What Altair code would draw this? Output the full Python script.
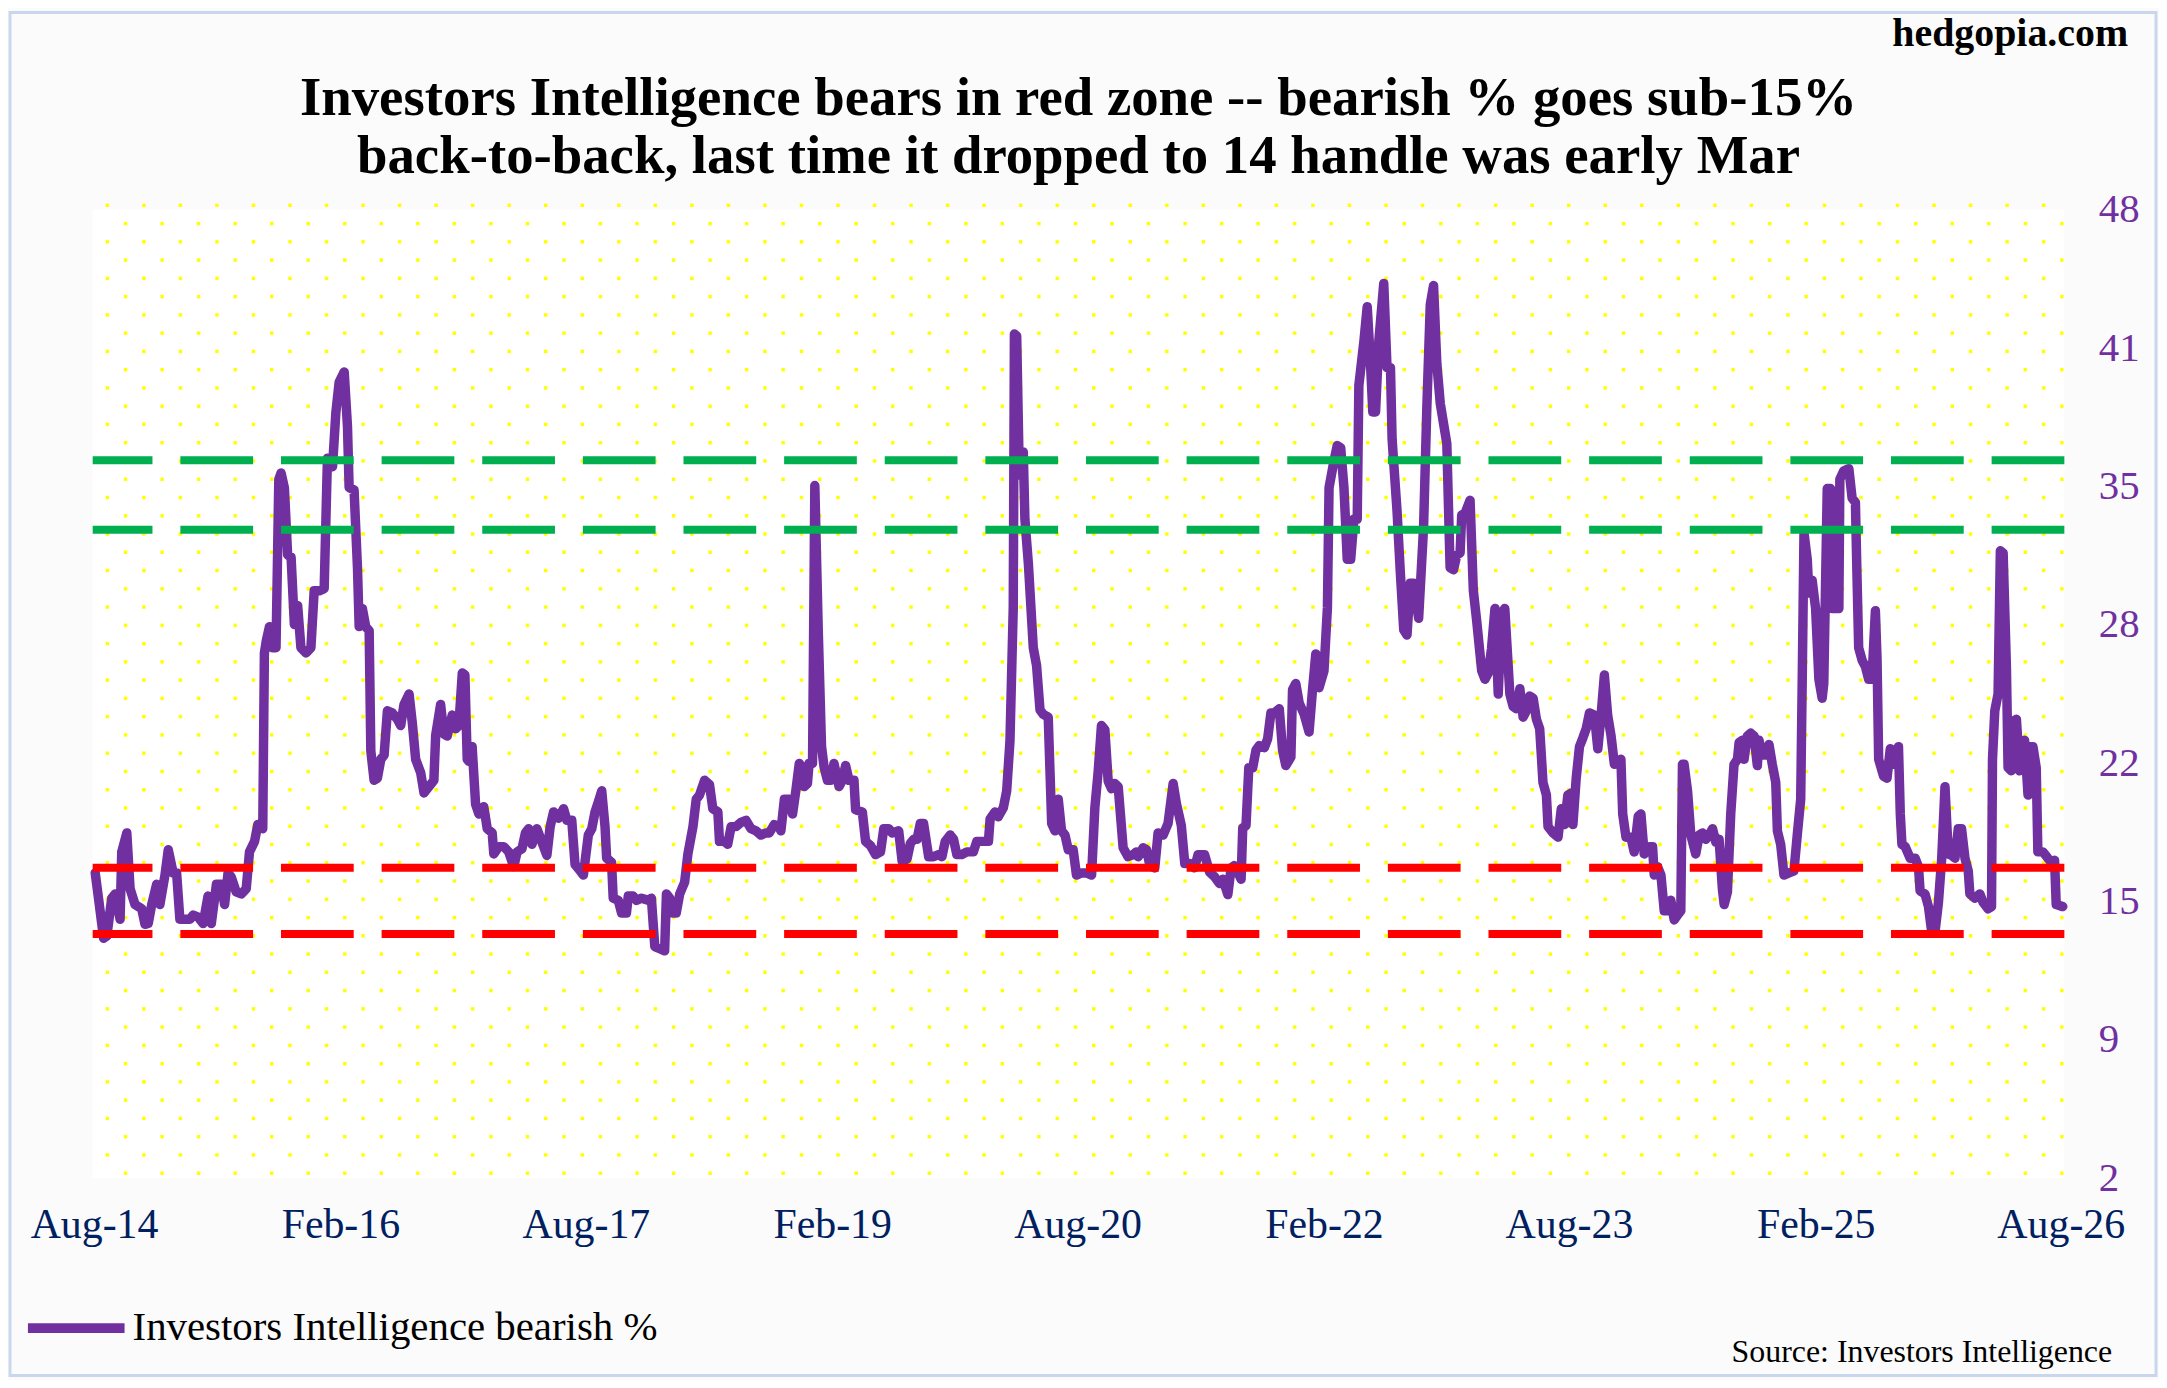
import altair as alt
import numpy as np
import pandas as pd

# ---------------- data ----------------
# decimal-year positions of the weekly readings
YEARS = [
    2014.588, 2014.608, 2014.639, 2014.659, 2014.689, 2014.710, 2014.740, 2014.750, 2014.781, 2014.801,
    2014.831, 2014.872, 2014.892, 2014.912, 2014.933, 2014.963, 2014.983, 2015.014, 2015.034, 2015.064,
    2015.085, 2015.105, 2015.166, 2015.186, 2015.216, 2015.247, 2015.277, 2015.297, 2015.328, 2015.358,
    2015.378, 2015.399, 2015.419, 2015.449, 2015.480, 2015.510, 2015.530, 2015.561, 2015.581, 2015.611,
    2015.621, 2015.632, 2015.652, 2015.672, 2015.692, 2015.709, 2015.723, 2015.743, 2015.763, 2015.784,
    2015.804, 2015.824, 2015.844, 2015.875, 2015.905, 2015.925, 2015.956, 2015.986, 2016.006, 2016.037,
    2016.057, 2016.077, 2016.108, 2016.128, 2016.138, 2016.168, 2016.189, 2016.199, 2016.219, 2016.239,
    2016.260, 2016.270, 2016.290, 2016.310, 2016.331, 2016.351, 2016.371, 2016.401, 2016.432, 2016.452,
    2016.472, 2016.503, 2016.523, 2016.543, 2016.574, 2016.594, 2016.624,
    2016.654, 2016.665, 2016.695, 2016.715, 2016.735, 2016.766, 2016.786, 2016.806, 2016.827, 2016.843,
    2016.857, 2016.867, 2016.887, 2016.908, 2016.928, 2016.958, 2016.979, 2017.009, 2017.019, 2017.049,
    2017.080, 2017.110, 2017.141, 2017.161, 2017.191, 2017.212, 2017.232, 2017.252, 2017.282, 2017.313,
    2017.343, 2017.363, 2017.384, 2017.414, 2017.445, 2017.465, 2017.495, 2017.515, 2017.546, 2017.566,
    2017.596, 2017.617, 2017.637, 2017.657, 2017.678, 2017.698, 2017.708, 2017.738, 2017.748, 2017.779,
    2017.799, 2017.829, 2017.840, 2017.870, 2017.890, 2017.921, 2017.961, 2017.981, 2018.002, 2018.032,
    2018.062, 2018.073, 2018.093, 2018.113, 2018.133, 2018.154, 2018.184, 2018.204, 2018.235, 2018.255,
    2018.275, 2018.306, 2018.336, 2018.356, 2018.387, 2018.397, 2018.427, 2018.447, 2018.468, 2018.498,
    2018.528, 2018.559, 2018.589, 2018.620, 2018.650, 2018.680, 2018.701, 2018.731, 2018.761,
    2018.772, 2018.793, 2018.823, 2018.843, 2018.863, 2018.884, 2018.904, 2018.914, 2018.934, 2018.944,
    2018.965, 2018.979, 2019.000, 2019.020, 2019.036, 2019.056, 2019.076, 2019.096, 2019.127, 2019.147,
    2019.167, 2019.188, 2019.218, 2019.228, 2019.269, 2019.289, 2019.319, 2019.350, 2019.380, 2019.400,
    2019.431, 2019.451, 2019.491, 2019.512, 2019.542, 2019.562, 2019.583, 2019.603, 2019.623, 2019.643,
    2019.674, 2019.704, 2019.735, 2019.755, 2019.775, 2019.806, 2019.826, 2019.846, 2019.876, 2019.907,
    2019.947, 2019.968, 2020.008, 2020.039, 2020.049, 2020.079, 2020.099, 2020.130, 2020.150, 2020.170,
    2020.190, 2020.197, 2020.211, 2020.227, 2020.241, 2020.251, 2020.261, 2020.282, 2020.312, 2020.332,
    2020.353, 2020.373, 2020.403, 2020.424, 2020.444, 2020.464, 2020.484, 2020.505, 2020.525, 2020.555,
    2020.575, 2020.606, 2020.636, 2020.667, 2020.687, 2020.707, 2020.727, 2020.748, 2020.768, 2020.788,
    2020.808, 2020.829, 2020.859, 2020.889, 2020.920, 2020.940,
    2020.951, 2020.981, 2021.002, 2021.022, 2021.052, 2021.072, 2021.103, 2021.133, 2021.164, 2021.184,
    2021.214, 2021.235, 2021.265, 2021.295, 2021.316, 2021.356, 2021.387, 2021.417, 2021.447, 2021.468,
    2021.498, 2021.518, 2021.538, 2021.559, 2021.579, 2021.589, 2021.609, 2021.626, 2021.650, 2021.670,
    2021.690, 2021.721, 2021.741, 2021.761, 2021.782, 2021.812, 2021.832, 2021.852, 2021.883, 2021.893,
    2021.913, 2021.934, 2021.964, 2021.994, 2022.015, 2022.035, 2022.055, 2022.085, 2022.106, 2022.116,
    2022.146, 2022.166, 2022.187, 2022.207, 2022.227, 2022.248, 2022.268, 2022.288, 2022.298, 2022.329,
    2022.349, 2022.369, 2022.383, 2022.400, 2022.420, 2022.450, 2022.470, 2022.491, 2022.501, 2022.531,
    2022.551, 2022.572, 2022.592, 2022.612, 2022.632, 2022.663, 2022.693, 2022.713, 2022.734, 2022.754,
    2022.774, 2022.795, 2022.835, 2022.855, 2022.876, 2022.896, 2022.916, 2022.926, 2022.947, 2022.977,
    2022.997, 2023.017, 2023.048, 2023.068,
    2023.088, 2023.108, 2023.129, 2023.149, 2023.169, 2023.189, 2023.210, 2023.220, 2023.240, 2023.260,
    2023.281, 2023.301, 2023.321, 2023.341, 2023.362, 2023.382, 2023.402, 2023.412, 2023.422, 2023.443,
    2023.453, 2023.483, 2023.514, 2023.534, 2023.554, 2023.574, 2023.595, 2023.605, 2023.625, 2023.645,
    2023.665, 2023.686, 2023.706, 2023.736, 2023.757, 2023.777, 2023.797, 2023.817, 2023.838, 2023.858,
    2023.878, 2023.898, 2023.909, 2023.929, 2023.959, 2023.979, 2024.004, 2024.020, 2024.040, 2024.071,
    2024.091, 2024.101, 2024.121, 2024.142, 2024.162, 2024.182, 2024.202, 2024.223, 2024.243, 2024.263,
    2024.273, 2024.283, 2024.304, 2024.324, 2024.354, 2024.375, 2024.395, 2024.415, 2024.435, 2024.456,
    2024.476, 2024.496, 2024.516, 2024.527, 2024.547, 2024.567, 2024.587, 2024.608, 2024.618, 2024.638,
    2024.648, 2024.668, 2024.689, 2024.709, 2024.729, 2024.739, 2024.759, 2024.780, 2024.800, 2024.820,
    2024.841, 2024.851, 2024.871, 2024.891, 2024.922, 2024.952, 2024.972, 2024.993, 2025.003, 2025.013,
    2025.033, 2025.043, 2025.063, 2025.084, 2025.104, 2025.124, 2025.134, 2025.155, 2025.175, 2025.185,
    2025.205, 2025.226, 2025.232, 2025.256, 2025.287, 2025.307, 2025.327, 2025.337, 2025.347, 2025.368,
    2025.388, 2025.408, 2025.428, 2025.449, 2025.459, 2025.469, 2025.499, 2025.520, 2025.540, 2025.560,
    2025.590, 2025.601, 2025.611, 2025.631, 2025.661, 2025.692, 2025.712, 2025.722, 2025.752, 2025.773,
    2025.793, 2025.813, 2025.834, 2025.854, 2025.874, 2025.894, 2025.915, 2025.935, 2025.955, 2025.975,
    2025.996, 2026.016, 2026.026, 2026.056, 2026.087, 2026.107, 2026.137, 2026.158, 2026.164, 2026.178,
    2026.198, 2026.212, 2026.229, 2026.249, 2026.259, 2026.279, 2026.289, 2026.310, 2026.330, 2026.350,
    2026.360, 2026.381, 2026.391, 2026.411, 2026.431, 2026.441, 2026.472, 2026.502, 2026.522, 2026.543,
    2026.553, 2026.593,
]

BEARISH = [
    16.5, 15.3, 13.4, 13.5, 15.3, 15.5, 14.3, 17.5, 18.4, 15.75,
    15.0, 14.8, 14.06, 14.1, 15.0, 15.96, 15.0, 16.4, 17.6, 16.5,
    16.5, 14.3, 14.3, 14.5, 14.4, 14.1, 15.4, 14.1, 15.96, 15.96,
    15.0, 16.5, 16.3, 15.6, 15.5, 15.75, 17.5, 18.0, 18.8, 18.6,
    26.95, 27.5, 28.2, 27.2, 27.2, 35.2, 35.5, 34.8, 31.6, 31.5,
    28.3, 29.2, 27.2, 26.95, 27.2, 29.9, 29.9, 30.0, 36.2, 35.8,
    38.35, 39.8, 40.3, 37.7, 34.8, 34.7, 30.96, 28.2, 29.05, 28.2,
    28.0, 22.3, 20.9, 21.0, 21.9, 22.1, 24.2, 24.1, 23.8, 23.5,
    24.5, 25.0, 23.6, 21.9, 21.25, 20.3, 20.6,
    20.9, 23.04, 24.5, 23.1, 23.0, 24.0, 23.35, 23.5, 26.0, 25.9,
    21.9, 21.8, 22.5, 19.76, 19.3, 19.65, 18.6, 18.4, 17.4, 17.75,
    17.75, 17.5, 16.8, 17.5, 17.65, 18.4, 18.6, 17.86, 18.6, 17.96,
    17.33, 18.7, 19.4, 19.1, 19.55, 19.0, 19.0, 16.9, 16.6, 16.4,
    18.3, 18.6, 19.4, 19.87, 20.4, 18.7, 17.2, 17.0, 15.3, 15.2,
    14.6, 14.6, 15.4, 15.4, 15.2, 15.3, 15.2, 15.3, 13.0, 12.9,
    12.8, 15.5, 15.3, 14.6, 14.6, 15.5, 16.06, 17.4, 18.7, 20.0,
    20.2, 20.9, 20.7, 19.55, 19.4, 18.0, 18.0, 17.86, 18.7, 18.7,
    18.9, 19.0, 18.6, 18.5, 18.3, 18.4, 18.4, 18.8, 18.7,
    18.5, 20.0, 20.0, 19.3, 20.4, 21.7, 21.5, 20.6, 20.75, 21.7,
    21.7, 34.9, 28.0, 22.5, 21.5, 20.9, 20.9, 21.7, 20.6, 20.9,
    21.6, 20.9, 20.9, 19.5, 19.4, 18.0, 17.8, 17.37, 17.5, 18.6,
    18.6, 18.4, 18.5, 17.06, 17.16, 17.9, 18.1, 18.1, 18.85, 18.85,
    17.27, 17.27, 17.37, 17.27, 18.0, 18.3, 18.1, 17.37, 17.37, 17.5,
    17.5, 18.0, 18.0, 18.0, 19.06, 19.4, 19.17, 19.6, 20.4, 22.76,
    29.1, 42.1, 42.0, 35.4, 36.5, 36.5, 33.3, 31.2, 27.2, 26.35,
    24.24, 24.03, 23.9, 18.85, 18.5, 20.0, 18.5, 18.3, 17.6, 17.6,
    16.4, 16.5, 16.5, 16.4, 19.6, 21.3, 23.5, 23.3, 20.86, 20.5,
    20.75, 20.6, 17.7, 17.27, 17.37, 17.5,
    17.27, 17.7, 17.6, 16.85, 16.74, 18.4, 18.3, 18.85, 20.75, 19.8,
    18.75, 16.95, 16.95, 16.74, 17.37, 17.37, 16.53, 16.32, 16.0, 16.2,
    15.47, 16.74, 16.85, 16.53, 16.2, 18.64, 18.75, 21.5, 21.5, 22.34,
    22.55, 22.45, 22.87, 24.1, 24.1, 24.3, 22.34, 21.6, 22.0, 25.2,
    25.5, 24.56, 24.03, 23.2, 25.2, 26.9, 25.3, 26.1, 29.1, 34.8,
    36.07, 36.8, 36.7, 34.8, 31.4, 31.4, 33.3, 33.3, 39.66, 41.78,
    43.4, 40.7, 38.4, 38.4, 41.78, 44.5, 40.5, 40.5, 37.1, 33.7,
    30.8, 28.04, 27.8, 30.26, 30.26, 28.6, 32.9, 38.6, 43.5, 44.4,
    40.7, 38.8, 36.9, 31.0, 30.9, 31.6, 31.7, 33.5, 33.6, 34.2,
    29.9, 28.5, 26.1, 25.7,
    26.0, 27.16, 29.06, 25.0, 28.85, 29.06, 26.3, 25.0, 24.4, 24.3,
    25.25, 23.9, 24.2, 24.9, 24.8, 23.8, 23.35, 22.1, 20.8, 20.2,
    18.7, 18.4, 18.2, 19.55, 18.8, 20.2, 20.3, 18.8, 21.0, 22.5,
    22.9, 23.35, 24.1, 24.0, 22.4, 24.0, 25.9, 24.0, 23.0, 21.66,
    21.77, 21.9, 19.3, 18.2, 18.2, 17.5, 19.2, 19.3, 17.4, 17.75,
    17.75, 16.4, 16.8, 16.4, 14.7, 14.7, 15.2, 14.27, 14.5, 14.7,
    21.66, 21.66, 20.4, 18.3, 17.4, 18.3, 18.4, 18.1, 18.3, 18.6,
    17.96, 18.1, 15.75, 15.0, 15.6, 19.3, 21.66, 21.9, 22.7, 22.8,
    21.9, 23.0, 23.14, 23.0, 21.6, 22.8, 22.1, 22.1, 22.6, 21.66,
    20.8, 18.5, 17.86, 16.4, 16.5, 16.6, 18.3, 20.0, 26.1, 32.65,
    31.4, 29.8, 30.4, 29.06, 25.7, 24.8, 25.5, 34.76, 34.76, 29.06,
    29.06, 29.06, 35.2, 35.6, 35.7, 34.3, 34.1, 30.5, 27.2, 26.6,
    26.3, 25.7, 25.7, 28.95, 26.7, 21.9, 21.1, 21.0, 22.4, 21.66,
    22.5, 19.3, 17.86, 17.75, 17.2, 17.2, 16.8, 15.64, 15.5, 14.9,
    13.7, 13.7, 15.1, 17.2, 20.6, 17.4, 17.33, 17.2, 18.6, 18.6,
    17.2, 16.6, 15.5, 15.3, 15.5, 15.1, 14.8, 14.9, 21.9, 24.2,
    25.0, 31.8, 31.7, 26.3, 21.5, 21.35, 23.7, 23.8, 21.35, 22.3,
    22.8, 20.2, 22.5, 22.5, 21.5, 17.5, 17.5, 17.2, 17.0, 17.1,
    15.0, 14.9,
]

SERIES_NAME = "Investors Intelligence bearish %"
GREEN_LEVELS = [36.1, 32.8]
RED_LEVELS = [16.75, 13.6]

TITLE_LINES = [
    "Investors Intelligence bears in red zone -- bearish % goes sub-15%",
    "back-to-back, last time it dropped to 14 handle was early Mar",
]
WATERMARK = "hedgopia.com"
SOURCE = "Source: Investors Intelligence"

X_TICKS = [(2014, 8), (2016, 2), (2017, 8), (2019, 2), (2020, 8),
           (2022, 2), (2023, 8), (2025, 2), (2026, 8)]
Y_MIN, Y_MAX = 2, 48
Y_TICKS = [Y_MIN + (Y_MAX - Y_MIN) * k / 7 for k in range(8)]

# ---------------- layout / style ----------------
W, H = 1979, 972
SERIF = "Liberation Serif"
PURPLE = "#7030A0"
GREEN = "#00B050"
RED = "#FF0000"
NAVY = "#002060"


def to_iso(y):
    yr = int(y)
    s = pd.Timestamp(year=yr, month=1, day=1)
    e = pd.Timestamp(year=yr + 1, month=1, day=1)
    return (s + (y - yr) * (e - s)).strftime("%Y-%m-%dT%H:%M:%S")


df = pd.DataFrame({
    "date": [to_iso(y) for y in YEARS],
    "bearish": BEARISH,
    "series": SERIES_NAME,
})

x_scale = alt.Scale(domain=[alt.DateTime(year=2014, month=7, date=29),
                            alt.DateTime(year=2026, month=8, date=9)])
y_scale = alt.Scale(domain=[Y_MIN, Y_MAX], nice=False, zero=False)

x_axis = alt.Axis(
    values=[alt.DateTime(year=y, month=m, date=1) for y, m in X_TICKS],
    format="%b-%y", labelFont=SERIF, labelFontSize=42, labelColor=NAVY,
    tickSize=0, domain=False, grid=False, labelPadding=27,
    labelOverlap=False, labelFlush=False, title=None,
)
y_axis = alt.Axis(
    orient="right", values=Y_TICKS, format=".0f", labelFont=SERIF,
    labelFontSize=41, labelColor=PURPLE, tickSize=0, domain=False,
    grid=False, labelPadding=34, title=None, labelOverlap=False,
    labelFlush=False,
)

line = alt.Chart(df).mark_line(strokeWidth=9.5, strokeJoin="round", strokeCap="round").encode(
    x=alt.X("date:T", scale=x_scale, axis=x_axis),
    y=alt.Y("bearish:Q", scale=y_scale, axis=y_axis),
    color=alt.Color(
        "series:N", scale=alt.Scale(range=[PURPLE]),
        legend=alt.Legend(
            orient="none", legendX=-70, legendY=1069, title=None,
            symbolType="stroke", symbolSize=9409, symbolStrokeWidth=10,
            labelFont=SERIF, labelFontSize=41, labelColor="black",
            labelLimit=0, padding=0, labelOffset=3,
        ),
    ),
)

green_rules = alt.Chart(pd.DataFrame({"level": GREEN_LEVELS})).mark_rule(
    color=GREEN, strokeWidth=8, strokeDash=[73, 28]
).encode(y=alt.Y("level:Q", scale=y_scale, axis=y_axis))

red_rules = alt.Chart(pd.DataFrame({"level": RED_LEVELS})).mark_rule(
    color=RED, strokeWidth=8, strokeDash=[73, 28]
).encode(y=alt.Y("level:Q", scale=y_scale, axis=y_axis))

main = alt.layer(line, green_rules, red_rules)

# decorative yellow dot pattern of the plot area (pixel grid)
DOT_DX, DOT_DY = 36.67, 18.33
rows = []
for k in range(54):
    yy = -4.5 + DOT_DY * k
    x0 = 14.7 if k % 2 == 0 else 33.0
    for i in range(54):
        rows.append({"gx": x0 + DOT_DX * i, "gy": yy})
dots = alt.Chart(pd.DataFrame(rows)).mark_square(
    size=12, color="#FFFF00", opacity=1
).encode(
    x=alt.X("gx:Q", scale=alt.Scale(domain=[0, W], nice=False, zero=False), axis=None),
    y=alt.Y("gy:Q", scale=alt.Scale(domain=[H, 0], nice=False, zero=False), axis=None),
)

one = alt.Data(values=[{}])
title1 = alt.Chart(one).mark_text(
    text=TITLE_LINES[0], font=SERIF, fontSize=55, fontWeight="bold",
    align="center", baseline="alphabetic", color="black"
).encode(x=alt.value(W / 2), y=alt.value(-95))
title2 = alt.Chart(one).mark_text(
    text=TITLE_LINES[1], font=SERIF, fontSize=55, fontWeight="bold",
    align="center", baseline="alphabetic", color="black"
).encode(x=alt.value(W / 2), y=alt.value(-37))
mark_wm = alt.Chart(one).mark_text(
    text=WATERMARK, font=SERIF, fontSize=40, fontWeight="bold",
    align="right", baseline="alphabetic", color="black"
).encode(x=alt.value(2043), y=alt.value(-164))
source = alt.Chart(one).mark_text(
    text=SOURCE, font=SERIF, fontSize=32, align="right",
    baseline="alphabetic", color="black"
).encode(x=alt.value(2027), y=alt.value(1156))
border = alt.Chart(one).mark_rect(
    fill=None, stroke="#C9D7EE", strokeWidth=3
).encode(x=alt.value(-83), x2=alt.value(W + 92), y=alt.value(-198), y2=alt.value(H + 198))

chart = alt.layer(dots, main, title1, title2, mark_wm, source, border).resolve_scale(
    x="independent", y="independent"
).properties(
    width=W, height=H,
    padding={"left": 85, "top": 200, "right": 95, "bottom": 200},
    autosize=alt.AutoSizeParams(type="none"),
    background="#FBFBFB",
).configure_view(fill="white", stroke=None)

chart.save("out.html", embed_options={"renderer": "svg", "actions": False})
